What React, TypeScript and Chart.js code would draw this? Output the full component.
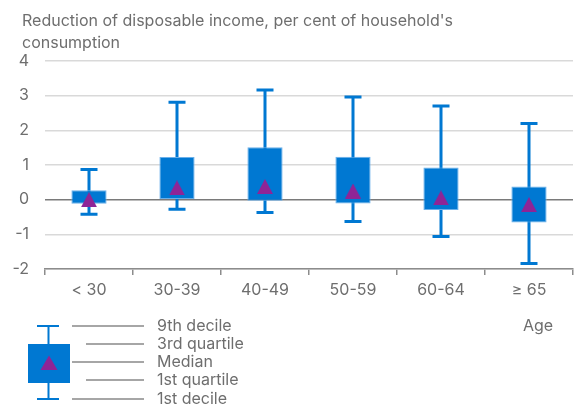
import { useEffect, useRef } from "react";
import { Chart, registerables } from "chart.js";

Chart.register(...registerables);

// Distribution of the income reduction by age group
const ageGroups = ["< 30", "30-39", "40-49", "50-59", "60-64", "≥ 65"];
const decile1 = [-0.42, -0.28, -0.37, -0.63, -1.06, -1.84];
const quartile1 = [-0.12, 0.0, -0.03, -0.11, -0.3, -0.66];
const medians = [0.0, 0.34, 0.38, 0.25, 0.05, -0.14];
const quartile3 = [0.27, 1.23, 1.51, 1.24, 0.93, 0.38];
const decile9 = [0.87, 2.81, 3.16, 2.96, 2.7, 2.2];
const yMin = -2;
const yMax = 4;
const titleLines = [
  "Reduction of disposable income, per cent of household's",
  "consumption",
];
const legendLabels = ["9th decile", "3rd quartile", "Median", "1st quartile", "1st decile"];
const axisName = "Age";

const BLUE = "#0078d2";
const BOX_EDGE = "#6ab0ea";
const PURPLE = "#8e2596";
const TEXT = "#6e6e6e";
const FONT = "Inter";
const FONT_SIZE = 16;

function makeTriangle(w: number, h: number): HTMLCanvasElement {
  const c = document.createElement("canvas");
  c.width = w;
  c.height = h;
  const g = c.getContext("2d")!;
  g.fillStyle = PURPLE;
  g.beginPath();
  g.moveTo(w / 2, 0);
  g.lineTo(w, h);
  g.lineTo(0, h);
  g.closePath();
  g.fill();
  return c;
}

// Whisker lines and caps from 1st to 9th decile, drawn under the boxes
const whiskers = {
  id: "whiskers",
  beforeDatasetsDraw(chart: any) {
    const { ctx, scales } = chart;
    const xs = scales.x;
    const ys = scales.y;
    ctx.save();
    ctx.strokeStyle = BLUE;
    ctx.lineWidth = 3;
    ageGroups.forEach((_, i) => {
      const cx = xs.getPixelForValue(i);
      const lo = ys.getPixelForValue(decile1[i]);
      const hi = ys.getPixelForValue(decile9[i]);
      ctx.beginPath();
      ctx.moveTo(cx, lo);
      ctx.lineTo(cx, hi);
      ctx.moveTo(cx - 8.5, lo);
      ctx.lineTo(cx + 8.5, lo);
      ctx.moveTo(cx - 8.5, hi);
      ctx.lineTo(cx + 8.5, hi);
      ctx.stroke();
    });
    ctx.restore();
  },
};

// Title, axis name and the explanatory key below the plot
const annotations = {
  id: "annotations",
  afterDraw(chart: any) {
    const { ctx } = chart;
    ctx.save();
    ctx.fillStyle = TEXT;
    ctx.font = `${FONT_SIZE}px ${FONT}`;
    ctx.textBaseline = "middle";
    ctx.textAlign = "left";
    titleLines.forEach((t, i) => ctx.fillText(t, 22, 21 + i * 22));
    ctx.fillText(axisName, 523, 326);

    // key glyph
    ctx.strokeStyle = BLUE;
    ctx.lineWidth = 2;
    ctx.beginPath();
    ctx.moveTo(48.5, 326);
    ctx.lineTo(48.5, 399);
    ctx.moveTo(37, 326);
    ctx.lineTo(59, 326);
    ctx.moveTo(37, 399);
    ctx.lineTo(59, 399);
    ctx.stroke();
    ctx.fillStyle = BLUE;
    ctx.fillRect(28, 344, 42, 39);
    ctx.fillStyle = PURPLE;
    ctx.beginPath();
    ctx.moveTo(49, 355.5);
    ctx.lineTo(57.5, 370);
    ctx.lineTo(40.5, 370);
    ctx.closePath();
    ctx.fill();

    // leader lines and labels
    const rowsY = [326, 344, 362, 380, 399];
    ctx.strokeStyle = "#a6a6a6";
    ctx.lineWidth = 2;
    ctx.fillStyle = TEXT;
    legendLabels.forEach((lab, i) => {
      const start = i % 2 === 1 ? 86 : 72;
      ctx.beginPath();
      ctx.moveTo(start, rowsY[i]);
      ctx.lineTo(144, rowsY[i]);
      ctx.stroke();
      ctx.fillText(lab, 157, rowsY[i]);
    });
    ctx.restore();
  },
};

export default function App() {
  const canvasRef = useRef<HTMLCanvasElement | null>(null);

  useEffect(() => {
    if (!canvasRef.current) return;
    const tri = makeTriangle(16, 15);
    const chart = new Chart(canvasRef.current, {
      type: "bar",
      data: {
        labels: ageGroups,
        datasets: [
          {
            type: "line",
            label: "Median",
            data: medians,
            showLine: false,
            pointStyle: tri as any,
            pointRadius: 8,
            order: 0,
          } as any,
          {
            type: "bar",
            label: "Quartiles",
            data: quartile1.map((q, i) => [q, quartile3[i]]),
            backgroundColor: BLUE,
            borderColor: BOX_EDGE,
            borderWidth: 1,
            borderSkipped: false,
            barPercentage: 0.4,
            categoryPercentage: 1,
            order: 1,
          } as any,
        ],
      },
      options: {
        animation: false,
        responsive: true,
        maintainAspectRatio: false,
        layout: { padding: { top: 61, bottom: 96, left: 0, right: 0 } },
        plugins: {
          legend: { display: false },
          title: { display: false },
          tooltip: { enabled: false },
        },
        scales: {
          x: {
            grid: {
              offset: true,
              drawOnChartArea: false,
              drawTicks: true,
              tickLength: 6,
              color: "#8c8c8c",
              lineWidth: 1.5,
            },
            border: { color: "#8c8c8c", width: 1.5 },
            ticks: {
              color: TEXT,
              font: { family: FONT, size: FONT_SIZE },
              padding: 6,
            },
            afterFit: (s: any) => {
              s.height = 40;
            },
          },
          y: {
            min: yMin,
            max: yMax,
            ticks: {
              stepSize: 1,
              color: TEXT,
              font: { family: FONT, size: FONT_SIZE },
              padding: 16,
            },
            grid: {
              drawTicks: false,
              color: (c: any) => (c.tick && c.tick.value === 0 ? "#7a7a7a" : "#d9d9d9"),
              lineWidth: 1.5,
            },
            border: { display: false },
            afterFit: (s: any) => {
              s.width = 45;
            },
          },
        },
      },
      plugins: [whiskers, annotations],
    });
    return () => chart.destroy();
  }, []);

  return (
    <div style={{ position: "absolute", left: 0, top: 0, width: 582, height: 405, background: "#fff" }}>
      <canvas ref={canvasRef} />
    </div>
  );
}
